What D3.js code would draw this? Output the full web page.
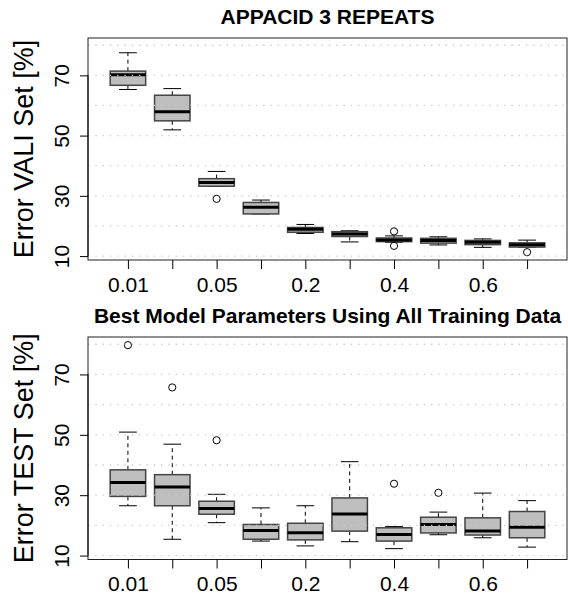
<!DOCTYPE html>
<html>
<head>
<meta charset="utf-8">
<script src="https://cdn.jsdelivr.net/npm/d3@7"></script>
<style>
  body { margin: 0; background: #fff; }
  svg { display: block; font-family: "Liberation Sans", Arial, Helvetica, sans-serif; }
</style>
</head>
<body>
<svg id="chart"></svg>
<script>
let w = 568;
let h = 596;

// learning rates (only every other one gets a label, like R drops overlaps)
let categories = ["0.01", "0.03", "0.05", "0.1", "0.2", "0.3", "0.4", "0.5", "0.6", "0.7"];
let yTicks = [10, 30, 50, 70];
let gridLines = [10, 20, 30, 40, 50, 60, 70, 80];

// validation error, 3 repeats
let valiLow  = [65.3, 51.9, 33.1, 24.0, 17.5, 14.7, 14.6, 13.7, 12.9, 13.0];
let valiQ1   = [66.7, 54.9, 33.2, 24.0, 17.9, 16.5, 14.8, 14.3, 13.8, 13.0];
let valiMed  = [70.2, 57.9, 34.4, 26.2, 18.9, 17.3, 15.3, 15.2, 14.6, 13.8];
let valiQ3   = [71.4, 63.4, 35.7, 27.8, 19.5, 18.1, 16.0, 15.9, 15.2, 14.4];
let valiHigh = [77.5, 65.6, 38.1, 28.6, 20.5, 18.4, 16.7, 16.4, 15.7, 15.3];
let valiOut  = [[], [], [29.0], [], [], [], [18.2, 13.4], [], [], [11.3]];

// test error, best model parameters
let testLow  = [26.5, 15.4, 20.9, 14.8, 13.2, 14.6, 12.3, 16.9, 15.9, 12.8];
let testQ1   = [29.6, 26.5, 23.7, 15.4, 15.2, 18.1, 14.8, 17.5, 16.8, 15.9];
let testMed  = [34.2, 32.7, 25.6, 18.3, 17.6, 23.8, 17.0, 20.3, 18.1, 19.4];
let testQ3   = [38.4, 36.8, 28.0, 20.3, 20.7, 29.1, 19.2, 22.7, 22.5, 24.6];
let testHigh = [50.9, 46.9, 30.3, 25.8, 26.5, 41.1, 19.6, 24.4, 30.7, 28.2];
let testOut  = [[79.7], [65.7], [48.2], [], [], [], [33.8], [30.8], [], []];

let svg = d3.select("#chart").attr("width", w).attr("height", h);

let left = 88;
let right = 567;

let xScale = d3.scaleLinear()
               .domain([0.1, categories.length + 0.9])
               .range([left, right]);

let makeRows = (lo, q1, med, q3, hi, out) => categories.map((c, i) => ({
    i: i + 1, lo: lo[i], q1: q1[i], med: med[i], q3: q3[i], hi: hi[i], out: out[i]
}));

let drawPanel = (top, bottom, title, yLabel, rows) => {
    let yScale = d3.scaleLinear()
                   .domain([8.7, 82.4])
                   .range([bottom, top]);

    let g = svg.append("g");
    let bw = xScale(1.4) - xScale(1);   // half box width (0.8 wide)
    let sw = xScale(1.2) - xScale(1);   // half staple width

    let box = g.selectAll(".box")
               .data(rows)
               .enter()
               .append("g")
               .attr("class", "box");

    // whiskers
    box.append("line")
       .attr("x1", (d) => xScale(d.i)).attr("x2", (d) => xScale(d.i))
       .attr("y1", (d) => yScale(d.q3)).attr("y2", (d) => yScale(d.hi))
       .attr("stroke", "black").attr("stroke-dasharray", "4 3.5");
    box.append("line")
       .attr("x1", (d) => xScale(d.i)).attr("x2", (d) => xScale(d.i))
       .attr("y1", (d) => yScale(d.q1)).attr("y2", (d) => yScale(d.lo))
       .attr("stroke", "black").attr("stroke-dasharray", "4 3.5");
    // staples
    box.append("line")
       .attr("x1", (d) => xScale(d.i) - sw).attr("x2", (d) => xScale(d.i) + sw)
       .attr("y1", (d) => yScale(d.hi)).attr("y2", (d) => yScale(d.hi))
       .attr("stroke", "black");
    box.append("line")
       .attr("x1", (d) => xScale(d.i) - sw).attr("x2", (d) => xScale(d.i) + sw)
       .attr("y1", (d) => yScale(d.lo)).attr("y2", (d) => yScale(d.lo))
       .attr("stroke", "black");

    box.append("rect")
       .attr("x", (d) => xScale(d.i) - bw)
       .attr("width", bw * 2)
       .attr("y", (d) => yScale(d.q3))
       .attr("height", (d) => yScale(d.q1) - yScale(d.q3))
       .attr("fill", "#bebebe")
       .attr("stroke", "#444")
       .attr("stroke-width", 1.5);

    box.append("line")
       .attr("x1", (d) => xScale(d.i) - bw).attr("x2", (d) => xScale(d.i) + bw)
       .attr("y1", (d) => yScale(d.med)).attr("y2", (d) => yScale(d.med))
       .attr("stroke", "black").attr("stroke-width", 3);

    box.selectAll("circle")
       .data((d) => d.out.map((v) => ({ i: d.i, v: v })))
       .enter()
       .append("circle")
       .attr("cx", (d) => xScale(d.i))
       .attr("cy", (d) => yScale(d.v))
       .attr("r", 3.6)
       .attr("fill", "none")
       .attr("stroke", "black");

    // grid goes on top, as grid() does after boxplot()
    g.selectAll(".grid")
     .data(gridLines)
     .enter()
     .append("line")
     .attr("x1", left).attr("x2", right)
     .attr("y1", (d) => yScale(d)).attr("y2", (d) => yScale(d))
     .attr("stroke", "#c8c8c8")
     .attr("stroke-width", 1.3)
     .attr("stroke-dasharray", "1.3 6");

    g.append("rect")
     .attr("x", left).attr("y", top)
     .attr("width", right - left).attr("height", bottom - top)
     .attr("fill", "none").attr("stroke", "#222");

    let xAxis = d3.axisBottom(xScale)
                  .tickValues(d3.range(1, categories.length + 1))
                  .tickSize(9)
                  .tickFormat((d) => d % 2 === 1 ? categories[d - 1] : "");
    let xg = svg.append("g")
                .attr("transform", `translate(0, ${bottom})`)
                .call(xAxis);
    xg.select(".domain").remove();
    xg.selectAll("text")
      .attr("y", 31.5).attr("dy", null)
      .style("font-size", "21px").attr("fill", "black");

    let yAxis = d3.axisLeft(yScale)
                  .tickValues(yTicks)
                  .tickSize(8);
    let yg = svg.append("g")
                .attr("transform", `translate(${left}, 0)`)
                .call(yAxis);
    yg.select(".domain").attr("d", `M0,${yScale(10)}V${yScale(70)}`);
    yg.selectAll("text")
      .attr("x", null).attr("dy", null)
      .attr("transform", "translate(-19, 0) rotate(-90)")
      .attr("text-anchor", "middle")
      .style("font-size", "21px").attr("fill", "black");

    svg.append("text")
       .attr("x", (left + right) / 2)
       .attr("y", top - 14.5)
       .attr("text-anchor", "middle")
       .style("font-size", "21px")
       .style("font-weight", "bold")
       .text(title);

    svg.append("text")
       .attr("transform", `translate(33, ${(top + bottom) / 2}) rotate(-90)`)
       .attr("text-anchor", "middle")
       .style("font-size", "27px")
       .text(yLabel);
}

drawPanel(38, 260, "APPACID 3 REPEATS", "Error VALI Set [%]",
          makeRows(valiLow, valiQ1, valiMed, valiQ3, valiHigh, valiOut));
drawPanel(337, 559.5, "Best Model Parameters Using All Training Data", "Error TEST Set [%]",
          makeRows(testLow, testQ1, testMed, testQ3, testHigh, testOut));
</script>
</body>
</html>
